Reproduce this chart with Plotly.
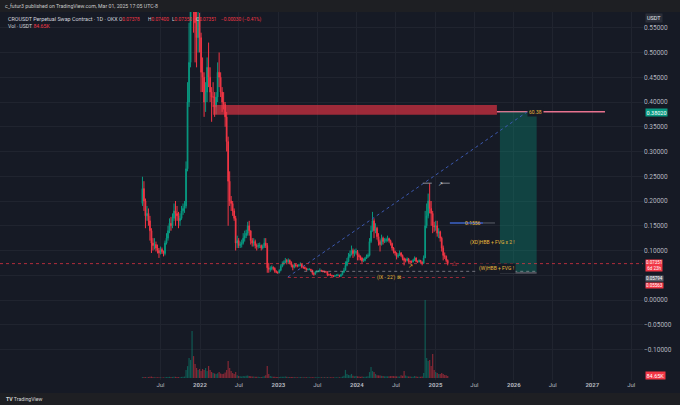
import pandas as pd
import plotly.graph_objects as go

# CROUSDT perpetual (OKX), weekly candles
week_start = "2021-04-08"
first_open = 0.195

closes = [
    0.225, 0.200, 0.170, 0.175, 0.160, 0.140, 0.115, 0.110, 0.112, 0.105,
    0.100, 0.095, 0.102, 0.098, 0.094, 0.115, 0.125, 0.140, 0.155, 0.150,
    0.165, 0.180, 0.175, 0.170, 0.160, 0.165, 0.180, 0.185, 0.190, 0.265,
    0.400, 0.480, 0.680, 0.780, 0.600, 0.560, 0.530, 0.570, 0.530, 0.460,
    0.450, 0.400, 0.420, 0.470, 0.450, 0.420, 0.410, 0.410, 0.390, 0.410,
    0.460, 0.450, 0.420, 0.400, 0.395, 0.370, 0.320, 0.240, 0.200, 0.195,
    0.180, 0.165, 0.115, 0.120, 0.110, 0.112, 0.115, 0.125, 0.130, 0.135,
    0.150, 0.140, 0.120, 0.115, 0.118, 0.110, 0.108, 0.110, 0.110, 0.105,
    0.108, 0.115, 0.110, 0.065, 0.062, 0.063, 0.066, 0.064, 0.058, 0.056,
    0.055, 0.060, 0.068, 0.073, 0.076, 0.080, 0.078, 0.080, 0.076, 0.070,
    0.066, 0.071, 0.070, 0.069, 0.070, 0.072, 0.066, 0.066, 0.064, 0.061,
    0.062, 0.062, 0.060, 0.054, 0.052, 0.057, 0.058, 0.058, 0.060, 0.058,
    0.058, 0.057, 0.057, 0.051, 0.051, 0.050, 0.049, 0.048, 0.049, 0.050,
    0.050, 0.048, 0.051, 0.056, 0.060, 0.070, 0.078, 0.088, 0.092, 0.100,
    0.094, 0.096, 0.098, 0.090, 0.088, 0.085, 0.079, 0.080, 0.084, 0.088,
    0.090, 0.118, 0.140, 0.160, 0.140, 0.145, 0.128, 0.118, 0.112, 0.125,
    0.118, 0.120, 0.122, 0.124, 0.120, 0.114, 0.105, 0.098, 0.095, 0.088,
    0.090, 0.095, 0.090, 0.084, 0.080, 0.080, 0.083, 0.078, 0.077, 0.077,
    0.080, 0.085, 0.078, 0.077, 0.080, 0.077, 0.074, 0.085, 0.150, 0.170,
    0.200, 0.185, 0.175, 0.150, 0.148, 0.150, 0.135, 0.138, 0.125, 0.105,
    0.090, 0.088, 0.080, 0.0735,
]

highs = [
    0.249, 0.240, 0.205, 0.190, 0.185, 0.170, 0.145, 0.125, 0.125, 0.118,
    0.112, 0.105, 0.108, 0.106, 0.100, 0.120, 0.135, 0.150, 0.165, 0.168,
    0.175, 0.195, 0.200, 0.190, 0.178, 0.175, 0.190, 0.195, 0.200, 0.280,
    0.440, 0.560, 0.720, 0.970, 0.820, 0.640, 0.600, 0.590, 0.580, 0.540,
    0.490, 0.460, 0.440, 0.490, 0.520, 0.470, 0.430, 0.440, 0.420, 0.420,
    0.480, 0.500, 0.460, 0.430, 0.420, 0.400, 0.380, 0.330, 0.260, 0.210,
    0.200, 0.185, 0.170, 0.130, 0.125, 0.118, 0.122, 0.135, 0.140, 0.142,
    0.158, 0.160, 0.140, 0.125, 0.125, 0.122, 0.114, 0.115, 0.116, 0.112,
    0.112, 0.125, 0.125, 0.115, 0.075, 0.068, 0.070, 0.068, 0.066, 0.060,
    0.058, 0.062, 0.072, 0.078, 0.080, 0.085, 0.083, 0.084, 0.082, 0.078,
    0.072, 0.074, 0.074, 0.072, 0.073, 0.076, 0.073, 0.069, 0.068, 0.065,
    0.064, 0.064, 0.063, 0.061, 0.056, 0.059, 0.060, 0.060, 0.064, 0.061,
    0.060, 0.059, 0.059, 0.058, 0.053, 0.054, 0.051, 0.050, 0.051, 0.052,
    0.053, 0.051, 0.053, 0.058, 0.065, 0.078, 0.085, 0.095, 0.100, 0.110,
    0.104, 0.102, 0.104, 0.101, 0.094, 0.090, 0.086, 0.084, 0.087, 0.092,
    0.094, 0.125, 0.150, 0.178, 0.165, 0.155, 0.148, 0.135, 0.122, 0.132,
    0.128, 0.125, 0.126, 0.130, 0.126, 0.122, 0.116, 0.107, 0.100, 0.096,
    0.094, 0.100, 0.097, 0.092, 0.086, 0.084, 0.086, 0.085, 0.080, 0.080,
    0.083, 0.088, 0.086, 0.080, 0.082, 0.081, 0.078, 0.090, 0.180, 0.195,
    0.215, 0.236, 0.200, 0.180, 0.158, 0.160, 0.160, 0.145, 0.140, 0.128,
    0.110, 0.096, 0.090, 0.082,
]

lows = [
    0.190, 0.180, 0.145, 0.160, 0.150, 0.120, 0.095, 0.100, 0.102, 0.098,
    0.094, 0.085, 0.092, 0.093, 0.088, 0.090, 0.112, 0.120, 0.135, 0.140,
    0.145, 0.160, 0.150, 0.160, 0.145, 0.150, 0.162, 0.172, 0.176, 0.185,
    0.260, 0.390, 0.470, 0.640, 0.540, 0.480, 0.470, 0.500, 0.500, 0.420,
    0.420, 0.370, 0.380, 0.400, 0.430, 0.400, 0.360, 0.390, 0.370, 0.375,
    0.400, 0.430, 0.410, 0.380, 0.385, 0.350, 0.300, 0.150, 0.190, 0.180,
    0.170, 0.160, 0.100, 0.105, 0.105, 0.105, 0.106, 0.112, 0.118, 0.125,
    0.130, 0.130, 0.112, 0.108, 0.108, 0.104, 0.100, 0.104, 0.105, 0.100,
    0.102, 0.105, 0.105, 0.055, 0.055, 0.057, 0.060, 0.060, 0.055, 0.054,
    0.053, 0.054, 0.058, 0.066, 0.070, 0.074, 0.072, 0.074, 0.072, 0.066,
    0.060, 0.064, 0.066, 0.066, 0.067, 0.068, 0.064, 0.063, 0.062, 0.059,
    0.060, 0.060, 0.058, 0.051, 0.049, 0.051, 0.055, 0.056, 0.056, 0.057,
    0.056, 0.055, 0.055, 0.048, 0.049, 0.049, 0.047, 0.046, 0.047, 0.048,
    0.048, 0.046, 0.047, 0.050, 0.055, 0.060, 0.068, 0.076, 0.085, 0.090,
    0.085, 0.088, 0.092, 0.080, 0.080, 0.080, 0.075, 0.077, 0.078, 0.083,
    0.085, 0.088, 0.115, 0.138, 0.125, 0.135, 0.122, 0.110, 0.098, 0.110,
    0.112, 0.115, 0.116, 0.118, 0.116, 0.110, 0.100, 0.094, 0.090, 0.082,
    0.085, 0.089, 0.087, 0.080, 0.070, 0.076, 0.078, 0.075, 0.074, 0.074,
    0.076, 0.079, 0.076, 0.075, 0.076, 0.075, 0.070, 0.073, 0.085, 0.145,
    0.165, 0.175, 0.150, 0.135, 0.138, 0.140, 0.128, 0.125, 0.118, 0.098,
    0.080, 0.083, 0.076, 0.070,
]

# volume in thousands of USDT
vols_k = [
    40, 45, 40, 35, 40, 50, 60, 40, 35, 30,
    30, 35, 30, 25, 25, 35, 40, 45, 50, 40,
    45, 55, 50, 40, 40, 35, 45, 50, 60, 340,
    500, 840, 760, 1970, 920, 590, 420, 340, 380, 290,
    380, 340, 420, 290, 500, 340, 250, 210, 190, 170,
    200, 250, 190, 170, 180, 230, 340, 710, 420, 290,
    210, 170, 250, 120, 80, 70, 60, 80, 70, 90,
    110, 80, 70, 60, 60, 50, 50, 50, 45, 45,
    50, 70, 120, 500, 170, 80, 60, 50, 50, 45,
    40, 40, 50, 55, 50, 60, 50, 45, 45, 40,
    45, 40, 35, 35, 35, 40, 35, 30, 30, 30,
    30, 30, 30, 35, 35, 30, 30, 30, 35, 30,
    30, 30, 30, 35, 30, 30, 30, 30, 30, 30,
    30, 30, 35, 60, 90, 340, 170, 130, 120, 170,
    90, 70, 80, 70, 60, 50, 60, 50, 50, 60,
    70, 250, 460, 290, 250, 170, 120, 110, 100, 90,
    80, 70, 70, 70, 70, 80, 80, 80, 70, 70,
    60, 60, 120, 90, 290, 100, 70, 60, 60, 55,
    55, 80, 60, 50, 55, 50, 60, 210, 3280, 840,
    710, 760, 500, 1010, 340, 250, 210, 170, 170, 210,
    170, 130, 120, 84.65,
]

price_ticks = [-0.10, -0.05, 0.0, 0.05, 0.10, 0.15, 0.20, 0.25, 0.30, 0.35, 0.40, 0.45, 0.50, 0.55]
# 0.05000 sits under the price labels on the scale, so its text is left blank
price_labels = ["−0.10000", "−0.05000", "0.00000", "", "0.10000", "0.15000", "0.20000", "0.25000",
                "0.30000", "0.35000", "0.40000", "0.45000", "0.50000", "0.55000"]
date_ticks = ["2021-07-01", "2022-01-01", "2022-07-01", "2023-01-01", "2023-07-01", "2024-01-01",
              "2024-07-01", "2025-01-01", "2025-07-01", "2026-01-01", "2026-07-01", "2027-01-01", "2027-07-01"]
date_labels = ["Jul", "<b>2022</b>", "Jul", "<b>2023</b>", "Jul", "<b>2024</b>", "Jul", "<b>2025</b>",
               "Jul", "<b>2026</b>", "Jul", "<b>2027</b>", "Jul"]

UP = "#089981"
DOWN = "#f23645"
BG = "#161a25"
BAR = "#1e1f23"
GRID = "#20242f"
TXT = "#b2b5be"
YEL = "#e8b93a"
FONT = "Roboto"
PW, PH = 643.0, 368.0   # plot area in px (top at y=12)

dates = pd.date_range(week_start, periods=len(closes), freq="7D")
opens = [first_open] + closes[:-1]
vol_colors = ["rgba(8,153,129,0.5)" if c >= o else "rgba(242,54,69,0.5)" for o, c in zip(opens, closes)]

fig = go.Figure()
fig.add_trace(go.Candlestick(
    x=dates, open=opens, high=highs, low=lows, close=closes,
    increasing=dict(line=dict(color=UP, width=1), fillcolor=UP),
    decreasing=dict(line=dict(color=DOWN, width=1), fillcolor=DOWN),
    whiskerwidth=0, showlegend=False, hoverinfo="skip"))
fig.add_trace(go.Bar(x=dates, y=vols_k, marker_color=vol_colors, marker_line_width=0,
                     yaxis="y2", showlegend=False, hoverinfo="skip"))

shapes = []
# grey strips top and bottom (publisher header / footer)
shapes.append(dict(type="rect", xref="paper", yref="paper", x0=-0.01, x1=1.07, y0=1.0, y1=1.04,
                   fillcolor=BAR, line_width=0, layer="above"))
shapes.append(dict(type="rect", xref="paper", yref="paper", x0=-0.01, x1=1.07, y0=-0.0353, y1=-0.075,
                   fillcolor=BAR, line_width=0, layer="above"))
# supply zone
shapes.append(dict(type="rect", x0="2022-03-02", x1="2025-10-14", y0=0.374, y1=0.394,
                   fillcolor="rgba(242,54,69,0.62)", line_width=0, layer="above"))
# target line
shapes.append(dict(type="line", x0="2025-10-14", x1="2027-03-01", y0=0.3802, y1=0.3802,
                   line=dict(color="#e8728f", width=1.5), layer="above"))
# long position box
shapes.append(dict(type="rect", x0="2025-10-28", x1="2026-04-17", y0=0.0566, y1=0.3802,
                   fillcolor="rgba(8,153,129,0.33)", line_width=0, layer="above"))
shapes.append(dict(type="rect", x0="2025-10-28", x1="2026-04-17", y0=0.0530, y1=0.0566,
                   fillcolor="rgba(150,150,160,0.45)", line_width=0, layer="above"))
# projection line
shapes.append(dict(type="line", x0="2023-02-14", x1="2026-03-03", y0=0.0465, y1=0.3798,
                   line=dict(color="#3c59b0", width=1, dash="dot"), layer="above"))
# current price line
shapes.append(dict(type="line", x0="2019-06-15", x1="2027-08-25", y0=0.0735, y1=0.0735,
                   line=dict(color="rgba(242,54,69,0.7)", width=1, dash="dot"), layer="above"))
# level lines
shapes.append(dict(type="line", x0="2023-05-01", x1="2026-04-17", y0=0.0579, y1=0.0579,
                   line=dict(color="rgba(150,150,160,0.7)", width=1, dash="dot"), layer="above"))
shapes.append(dict(type="line", x0="2023-02-14", x1="2025-06-01", y0=0.0455, y1=0.0455,
                   line=dict(color="rgba(242,54,69,0.6)", width=1, dash="dot"), layer="above"))
shapes.append(dict(type="line", x0="2024-11-03", x1="2025-04-11", y0=0.236, y1=0.236,
                   line=dict(color="#8a8d96", width=1, dash="dash"), layer="above"))
shapes.append(dict(type="line", x0="2025-03-09", x1="2025-08-10", y0=0.1556, y1=0.1556,
                   line=dict(color="#3d63c9", width=1.5), layer="above"))
shapes.append(dict(type="line", x0="2025-08-10", x1="2025-10-05", y0=0.1556, y1=0.1556,
                   line=dict(color="#5d606b", width=1), layer="above"))

ann = []


def text(px, py, s, color=TXT, size=6, bg=None, pad=1, yref="paper", y=None):
    # px, py: pixel position in the 680x405 picture (left edge, vertical middle)
    yy = y if y is not None else (380 - py) / PH
    ann.append(dict(x=px / PW, y=yy, xref="paper", yref=yref, text=s, showarrow=False, xanchor="left",
                    yanchor="middle", font=dict(family=FONT, size=size, color=color),
                    bgcolor=bg, borderpad=pad))


def red(s):
    return "<span style='color:#f23645'>" + s + "</span>"


text(3, 6, "c_futur3 published on TradingView.com, Mar 01, 2025 17:05 UTC-8", color="#c9c9c9", size=5.2)
text(6, 19, "CROUSDT Perpetual Swap Contract · 1D · OKX", color="#d1d4dc", size=5.4)
text(117, 19, "O" + red("0.07378"), color="#d1d4dc", size=4.8)
text(146, 19, "H" + red("0.07400"), color="#d1d4dc", size=4.8)
text(170, 19, "L" + red("0.07350"), color="#d1d4dc", size=4.8)
text(194, 19, "C" + red("0.07351"), color="#d1d4dc", size=4.8)
text(219, 19, red("−0.00030 (−0.41%)"), size=4.8)
text(6, 26, "Vol · USDT " + red("84.65K"), color="#d1d4dc", size=5.2)
text(4, 399, "<b>TV</b> TradingView", color="#d8d8d8", size=5.2)

# price scale labels
text(645, 18, "USDT", color="#e0e3eb", size=5.5, bg="#2a2e39")
text(645, 112, "0.38020", color="white", size=5.5, bg=UP, pad=0.5)
text(645, 265, "0.07351<br>6d 23h", color="white", size=4.5, bg=DOWN, pad=0)
text(645, 278, "0.05794", color="white", size=4.5, bg="#5d606b", pad=0)
text(645, 285, "0.05563", color="white", size=4.5, bg=DOWN, pad=0)
text(645, 375, "84.65K", color="white", size=5.5, bg=DOWN, pad=0.5)

# chart notes
text(527, 0, "60.38", color=YEL, size=5, bg=BG, yref="y", y=0.3802)
text(375, 0, "(IX - 22') ⊠", color=YEL, size=5, bg=BG, yref="y", y=0.0455)
text(468, 0, "(XD)HBB + FVG x 2 !", color=YEL, size=5, yref="y", y=0.117)
text(477, 0, "(W)HBB + FVG !", color=YEL, size=5, bg=BG, yref="y", y=0.0646)
text(463, 0, "0.1556", color=YEL, size=5, yref="y", y=0.1556)
text(450, 0, "△", color=DOWN, size=6, yref="y", y=0.075)
text(406, 0, "↗", color=YEL, size=6, yref="y", y=0.069)
text(436, 0, "↗", color="#d1d4dc", size=6, yref="y", y=0.236)

fig.update_layout(
    width=680, height=405,
    margin=dict(l=0, r=37, t=12, b=25),
    paper_bgcolor=BG, plot_bgcolor=BG,
    font=dict(family=FONT, size=6, color=TXT),
    shapes=shapes, annotations=ann,
    bargap=0.2, showlegend=False,
    xaxis=dict(range=["2019-06-15", "2027-08-25"], rangeslider=dict(visible=False),
               tickvals=date_ticks, ticktext=date_labels, tickfont=dict(size=6, color=TXT),
               showgrid=True, gridcolor=GRID, gridwidth=1, zeroline=False, ticks="", showline=False),
    yaxis=dict(range=[-0.1616, 0.5818], side="right", tickvals=price_ticks, ticktext=price_labels,
               tickfont=dict(size=6.5, color=TXT), showgrid=True, gridcolor=GRID, gridwidth=1,
               zeroline=False, ticks="", showline=False),
    yaxis2=dict(overlaying="y", range=[-84, 15372], visible=False, showgrid=False),
)

# the page is photographed at exactly 680x405, so drop the default body margin
fig.write_html("out.html", config={"displayModeBar": False},
               post_script="document.body.style.margin='0px';")
